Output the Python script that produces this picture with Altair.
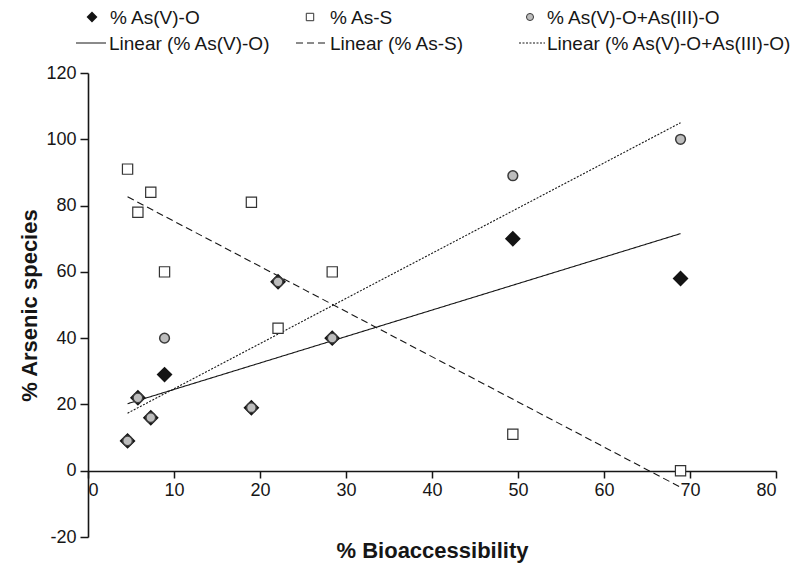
import altair as alt
import pandas as pd

# Data
bioaccess = [4.6, 5.8, 7.3, 8.9, 19.0, 22.1, 28.4, 49.4, 68.9]
as_v_o = [9, 22, 16, 29, 19, 57, 40, 70, 58]
as_s = [91, 78, 84, 60, 81, 43, 60, 11, 0]
as_v_iii_o = [9, 22, 16, 40, 19, 57, 40, 89, 100]

series_names = ["% As(V)-O", "% As-S", "% As(V)-O+As(III)-O"]
line_names = ["Linear (% As(V)-O)", "Linear (% As-S)", "Linear (% As(V)-O+As(III)-O)"]

rows = []
for name, vals in zip(series_names, [as_v_o, as_s, as_v_iii_o]):
    for xv, yv in zip(bioaccess, vals):
        rows.append({"x": xv, "y": yv, "series": name})
df = pd.DataFrame(rows)

FONT = "Liberation Sans"
INK = "#161616"

xscale = alt.Scale(domain=[0, 80], nice=False, zero=False)
yscale = alt.Scale(domain=[-20, 120], nice=False, zero=False)

xaxis = alt.Axis(
    values=list(range(0, 81, 10)), offset=-66, grid=False,
    tickSize=7, tickWidth=1.5, domainWidth=1.6, domainColor=INK, tickColor=INK,
    labelFont=FONT, labelFontSize=18, labelColor=INK, labelPadding=3,
    labelExpr="toString(datum.value)",
    title="% Bioaccessibility", titleFont=FONT, titleFontSize=22,
    titleFontWeight="bold", titleColor=INK, titleY=79, titleBaseline="middle",
)
yaxis = alt.Axis(
    values=list(range(-20, 121, 20)), grid=False,
    tickSize=8, tickWidth=1.5, domainWidth=1.6, domainColor=INK, tickColor=INK,
    labelFont=FONT, labelFontSize=18, labelColor=INK, labelPadding=4,
    labelExpr="toString(datum.value)",
    title="% Arsenic species", titleFont=FONT, titleFontSize=22,
    titleFontWeight="bold", titleColor=INK, titleX=-59, titleY=232,
    titleAngle=270, titleBaseline="middle", titleAlign="center",
)

base = alt.Chart(df)
X = alt.X("x:Q", scale=xscale, axis=xaxis)
Y = alt.Y("y:Q", scale=yscale, axis=yaxis)


def flt(name):
    return alt.datum.series == name


# regression lines
reg_styles = [[1, 0], [7, 4], [2, 1.5]]
reg_layers = []
for name, dash in zip(series_names, reg_styles):
    reg_layers.append(
        base.transform_filter(flt(name))
        .transform_regression("x", "y", method="linear")
        .mark_line(color=INK, strokeWidth=1.1, strokeDash=dash)
        .encode(x=alt.X("x:Q", scale=xscale), y=alt.Y("y:Q", scale=yscale))
    )

diamonds = base.transform_filter(flt(series_names[0])).mark_point(
    shape="diamond", filled=True, fill="#141414", stroke="#141414",
    strokeWidth=1.5, size=190, opacity=1
).encode(x=X, y=Y)
squares = base.transform_filter(flt(series_names[1])).mark_point(
    shape="square", filled=True, fill="white", stroke="#333333",
    strokeWidth=1.2, size=105, opacity=1
).encode(x=alt.X("x:Q", scale=xscale), y=alt.Y("y:Q", scale=yscale))
circles = base.transform_filter(flt(series_names[2])).mark_point(
    shape="circle", filled=True, fill="#bdbdbd", stroke="#3a3a3a",
    strokeWidth=1.5, size=95, opacity=1
).encode(x=alt.X("x:Q", scale=xscale), y=alt.Y("y:Q", scale=yscale))

# manual legend (decoration, in pixel space)
one = pd.DataFrame({"k": [0]})
legend_layers = []


def text_at(label, px, py):
    return alt.Chart(one).mark_text(
        text=label, align="left", baseline="alphabetic", font=FONT,
        fontSize=19, color=INK
    ).encode(x=alt.value(px), y=alt.value(py))


row1 = -56
row2 = -30
legend_layers.append(alt.Chart(one).mark_point(
    shape="diamond", filled=True, fill="#141414", stroke="#141414", size=65, opacity=1
).encode(x=alt.value(4), y=alt.value(row1)))
legend_layers.append(text_at(series_names[0], 22, row1 + 7))
legend_layers.append(alt.Chart(one).mark_point(
    shape="square", filled=True, fill="white", stroke="#333333", strokeWidth=1, size=55, opacity=1
).encode(x=alt.value(222), y=alt.value(row1)))
legend_layers.append(text_at(series_names[1], 242, row1 + 7))
legend_layers.append(alt.Chart(one).mark_point(
    shape="circle", filled=True, fill="#bdbdbd", stroke="#3a3a3a", strokeWidth=1, size=50, opacity=1
).encode(x=alt.value(442), y=alt.value(row1)))
legend_layers.append(text_at(series_names[2], 459, row1 + 7))

for (x1, x2, tx), dash, label in zip(
    [(-12, 18, 21), (208, 240, 242), (431, 457, 459)], reg_styles, line_names
):
    legend_layers.append(alt.Chart(one).mark_rule(
        color=INK, strokeWidth=1, strokeDash=dash
    ).encode(x=alt.value(x1), x2=alt.value(x2), y=alt.value(row2)))
    legend_layers.append(text_at(label, tx, row2 + 7))

chart = alt.layer(
    *reg_layers, diamonds, squares, circles, *legend_layers
).properties(
    width=688, height=464,
    autosize=alt.AutoSizeParams(type="none"),
    padding={"left": 80, "top": 65, "right": 16, "bottom": 28},
    background="white",
).configure_view(stroke=None)

chart.save("out.html", embed_options={"renderer": "svg", "actions": False})
